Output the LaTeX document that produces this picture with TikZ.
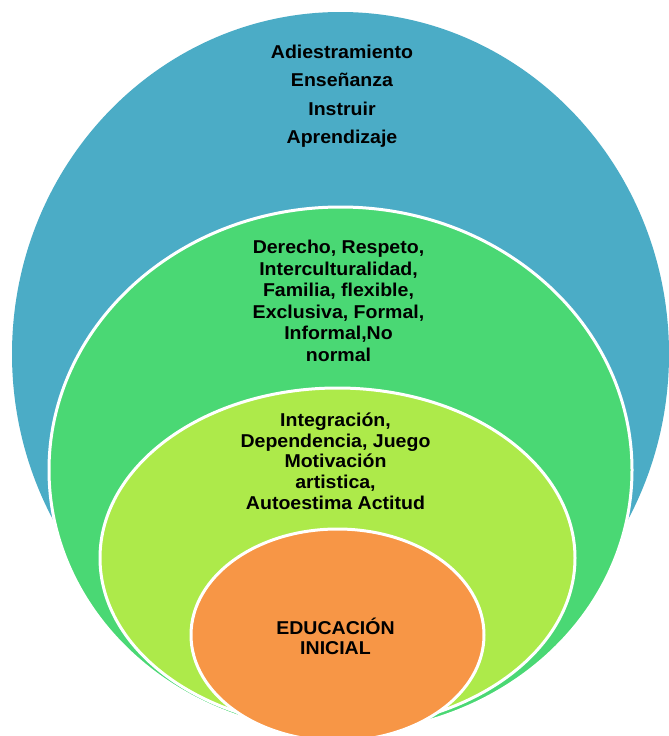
\documentclass[tikz,border=0pt]{standalone}
\usepackage{fontspec}
\setmainfont[FakeStretch=1.05]{Liberation Sans}
\definecolor{cblue}{HTML}{4BACC6}
\definecolor{cgreen}{HTML}{4AD874}
\definecolor{clime}{HTML}{ADEA4A}
\definecolor{corange}{HTML}{F79646}
\tikzset{
  ring/.style={draw=white, line width=3pt},
  lbl/.style={align=center, font=\bfseries\fontsize{18.6}{21.5}\selectfont, text=black, inner sep=0pt}
}
\begin{document}
\begin{tikzpicture}[x=1pt,y=-1pt]
\useasboundingbox (0,0) rectangle (669,736);
\clip (0,0) rectangle (669,736);
\fill[white] (0,0) rectangle (669,736);
\filldraw[ring, fill=cblue, draw=none] (340.5,354) ellipse [x radius=328.5, y radius=342];
\filldraw[ring, fill=cgreen] (340.5,470) ellipse [x radius=291.5, y radius=263];
\filldraw[ring, fill=clime] (337.5,558) ellipse [x radius=237.5, y radius=170];
\filldraw[ring, fill=corange] (337.5,635) ellipse [x radius=146.5, y radius=106];
\node[lbl, font=\bfseries\fontsize{18.6}{28.5}\selectfont] (t1) at (342,96) {Adiestramiento\\Enseñanza\\Instruir\\Aprendizaje};
\node[lbl] (t2) at (338.5,301) {Derecho, Respeto,\\Interculturalidad,\\Familia, flexible,\\Exclusiva, Formal,\\Informal,No\\normal};
\node[lbl, font=\bfseries\fontsize{18.6}{20.7}\selectfont] (t3) at (335.5,461) {Integración,\\Dependencia, Juego\\Motivación\\artistica,\\Autoestima Actitud};
\node[lbl, font=\bfseries\fontsize{18.6}{20}\selectfont] (t4) at (335.5,636) {EDUCACIÓN\\INICIAL};
\end{tikzpicture}
\end{document}
